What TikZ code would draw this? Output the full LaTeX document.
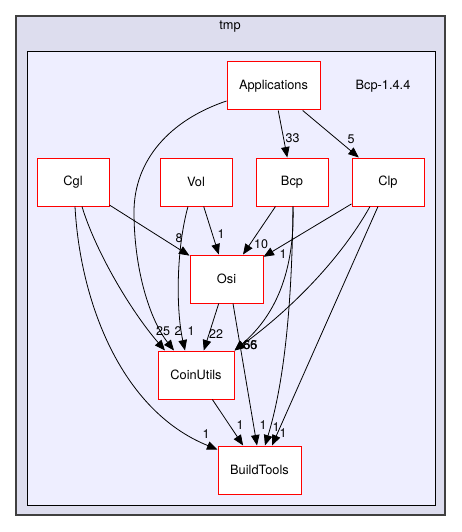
\documentclass[tikz,border=0pt]{standalone}
\usepackage{fontspec}
\setmainfont{TeX Gyre Heros}
\usepackage{tikz}
\usetikzlibrary{arrows.meta,calc,positioning}
\definecolor{clusterout}{HTML}{DDDDEE}
\definecolor{clusterin}{HTML}{EEEEFF}

\begin{document}
\begin{tikzpicture}[x=1pt,y=-1pt,
    dirbox/.style={draw=red, fill=white, line width=1pt, minimum width=72pt,
      minimum height=48pt, inner sep=0pt, font=\fontsize{12.8}{15}\selectfont},
    dep/.style={-{Triangle[length=10.5pt,width=8.5pt]}, line width=0.8pt},
    lbl/.style={inner sep=0pt, font=\fontsize{12.5}{14}\selectfont}]
      \useasboundingbox (0,0) rectangle (461,532);
      % Draw the clusters
      \filldraw[fill=clusterout, draw=black!75, line width=1.2pt] (16,16) rectangle (445,515);
      \node[lbl, font=\fontsize{12.8}{15}\selectfont] (tmp) at (230,27) {tmp};
      \filldraw[fill=clusterin, draw=black, line width=1pt] (27,52) rectangle (435,505);
      \node[lbl, font=\fontsize{12.8}{15}\selectfont] (bcpdir) at (383,86) {Bcp-1.4.4};
      % Draw the directories
      \node[dirbox, minimum width=93pt] (app) at (273.5,86) {Applications};
      \node[dirbox] (cgl) at (73,182) {Cgl};
      \node[dirbox] (vol) at (196,182) {Vol};
      \node[dirbox] (bcp) at (292,182) {Bcp};
      \node[dirbox] (clp) at (388,182) {Clp};
      \node[dirbox, minimum width=73pt] (osi) at (226.5,279) {Osi};
      \node[dirbox, minimum width=76pt] (coin) at (196,375) {CoinUtils};
      \node[dirbox, minimum width=83pt] (build) at (259.5,470) {BuildTools};
      % Dependencies
      \draw[dep] (app) -- (bcp);
      \draw[dep] (app) -- (clp);
      \draw[dep] ([yshift=-15pt]app.west) .. controls (170,120) and (134,160) .. (134,212)
        .. controls (134,270) and (150,320) .. ([xshift=-22pt]coin.north);
      \draw[dep] (cgl) -- (osi);
      \draw[dep] ([xshift=9pt]cgl.south) .. controls (95,250) and (130,310) .. ([xshift=-31pt]coin.north);
      \draw[dep] ([xshift=2pt]cgl.south) .. controls (80,300) and (120,410) .. ([yshift=-4pt]build.north west);
      \draw[dep] (vol) -- (osi);
      \draw[dep] ([xshift=-8pt]vol.south) .. controls (176,250) and (176,310) .. ([xshift=-11pt]coin.north);
      \draw[dep] (bcp) -- (osi);
      \draw[dep] ([xshift=1pt]bcp.south) .. controls (295,280) and (270,320) .. (coin.north east);
      \draw[dep] ([xshift=1pt]bcp.south) .. controls (292,300) and (285,380) .. ([xshift=5.5pt]build.north);
      \draw[dep] (clp) -- (osi);
      \draw[dep] ([xshift=-18pt]clp.south) .. controls (340,260) and (290,310) .. (coin.north east);
      \draw[dep] ([xshift=-10pt]clp.south) -- ([xshift=12.5pt]build.north);
      \draw[dep] (osi) -- (coin);
      \draw[dep] ([xshift=6.5pt]osi.south) -- ([xshift=-2.5pt]build.north);
      \draw[dep] (coin) -- (build);
      % Labels
      \node[lbl] (n33) at (292.5,138) {33};
      \node[lbl] (n5) at (351,139) {5};
      \node[lbl] (n8) at (179,238) {8};
      \node[lbl] (nvolosi) at (221,234) {1};
      \node[lbl] (n10) at (261,244) {10};
      \node[lbl] (nclposi) at (283,254) {1};
      \node[lbl] (n25) at (163,331) {25};
      \node[lbl] (n2) at (178,331) {2};
      \node[lbl] (nvolcoin) at (191,331) {1};
      \node[lbl] (n22) at (216,334.5) {22};
      \node[lbl] (n66) at (250,345) {66};
      \node[lbl] (n55) at (250.5,345) {55};
      \node[lbl] (ncglbuild) at (206,434) {1};
      \node[lbl] (ncoinbuild) at (240,425) {1};
      \node[lbl] (nosibuild) at (263,425) {1};
      \node[lbl] (nbcpbuild) at (276,427) {1};
      \node[lbl] (nclpbuild) at (283,433) {1};
    \end{tikzpicture}
\end{document}
